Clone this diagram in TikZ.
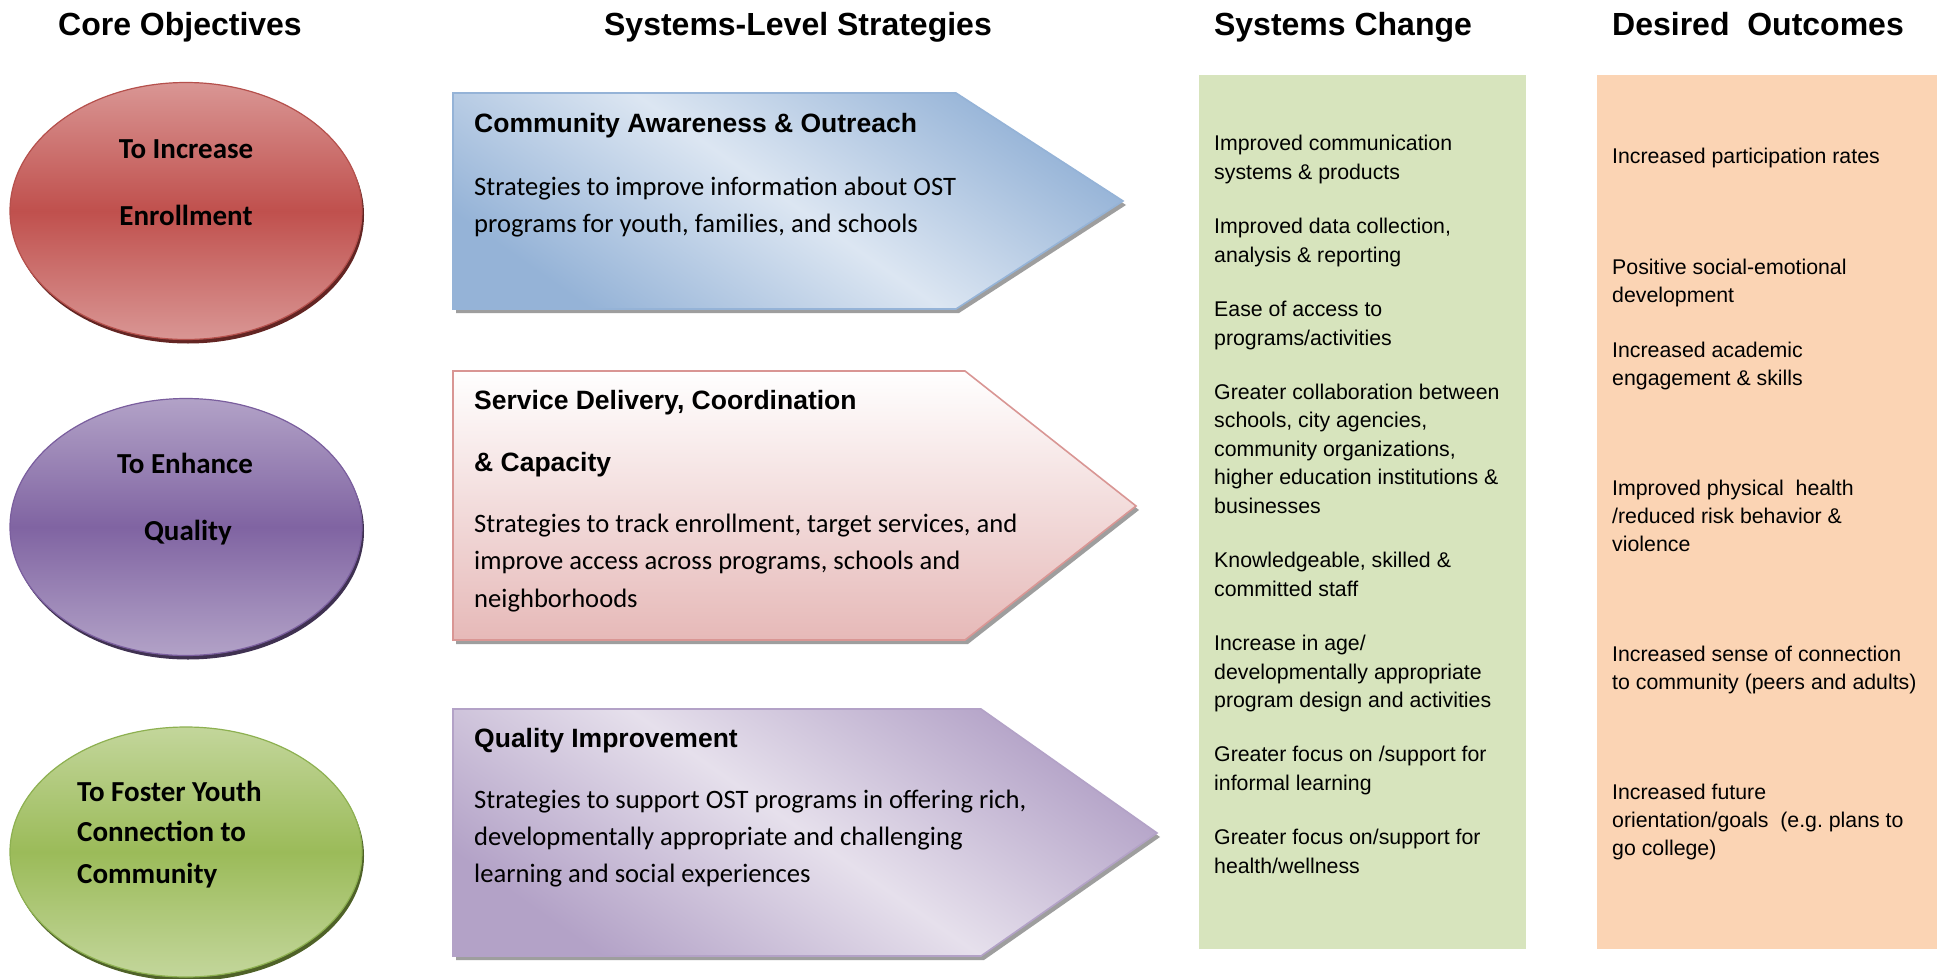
\documentclass[tikz,border=0pt]{standalone}
\usepackage{fontspec}
\setmainfont{Liberation Sans}
\newfontfamily\carlito{Carlito}
\usetikzlibrary{shapes.geometric}
\definecolor{redL}{HTML}{D99694}
\definecolor{redM}{HTML}{C0504D}
\definecolor{redB}{HTML}{B5504C}
\definecolor{redS}{HTML}{632523}
\definecolor{purL}{HTML}{B2A2C7}
\definecolor{purM}{HTML}{8064A2}
\definecolor{purB}{HTML}{7A5E9E}
\definecolor{purS}{HTML}{3F3151}
\definecolor{grnL}{HTML}{C3D69B}
\definecolor{grnM}{HTML}{9BBB59}
\definecolor{grnB}{HTML}{8DB050}
\definecolor{grnS}{HTML}{4F6228}
\definecolor{blueD}{HTML}{95B3D7}
\definecolor{blueL}{HTML}{DCE6F2}
\definecolor{pinkD}{HTML}{E6B9B8}
\definecolor{pinkB}{HTML}{D99694}
\definecolor{lavD}{HTML}{B3A2C7}
\definecolor{lavL}{HTML}{E6E0EC}
\definecolor{boxG}{HTML}{D7E4BD}
\definecolor{boxP}{HTML}{FBD4B4}
\begin{document}
\begin{tikzpicture}[x=1pt,y=-1pt,
  coltitle/.style={font=\bfseries\fontsize{32}{38}\selectfont, anchor=base, inner sep=0},
  objtxt/.style={font=\carlito\bfseries\fontsize{29}{35}\selectfont, anchor=base, inner sep=0},
  objtxtl/.style={objtxt, anchor=base west},
  headtxt/.style={font=\bfseries\fontsize{26.5}{32}\selectfont, anchor=base west, inner sep=0},
  bodytxt/.style={font=\carlito\fontsize{26.6}{37}\selectfont, anchor=base west, inner sep=0},
  itemtxt/.style={font=\fontsize{21.3}{28.5}\selectfont, anchor=base west, inner sep=0},
  oval/.style={ellipse, minimum width=352pt, minimum height=257pt, inner sep=0, line width=1.2pt},
  ovalshadow/.style={ellipse, minimum width=352pt, minimum height=257pt, inner sep=0},
  arrowshadow/.style={fill=black!38},
  colbox/.style={rectangle, inner sep=0, anchor=north west, minimum width=327pt, minimum height=874pt}
]
\useasboundingbox (0,0) rectangle (1940,979);
\fill[white] (0,0) rectangle (1940,979);

% column titles
\node[coltitle] (t1) at (180,36) {Core Objectives};
\node[coltitle] (t2) at (798,36) {Systems-Level Strategies};
\node[coltitle] (t3) at (1343,36) {Systems Change};
\node[coltitle] (t4) at (1758,36) {Desired\ \ Outcomes};

% core objectives ellipses
\node[ovalshadow, fill=redS] (o1s) at (188,215) {};
\node[oval, draw=redB, top color=redL, bottom color=redL, middle color=redM] (o1) at (186,211) {};
\node[objtxt] (o1a) at (186,158) {To Increase};
\node[objtxt] (o1b) at (186,225) {Enrollment};

\node[ovalshadow, fill=purS] (o2s) at (188,531) {};
\node[oval, draw=purB, top color=purL, bottom color=purL, middle color=purM] (o2) at (186,527) {};
\node[objtxt] (o2a) at (185,473) {To Enhance};
\node[objtxt] (o2b) at (188,540) {Quality};

\node[ovalshadow, fill=grnS, minimum height=250pt] (o3s) at (188,856) {};
\node[oval, draw=grnB, top color=grnL, bottom color=grnL, middle color=grnM, minimum height=250pt] (o3) at (186,852) {};
\node[objtxtl] (o3a) at (77,801) {To Foster Youth};
\node[objtxtl] (o3b) at (77,841) {Connection to};
\node[objtxtl] (o3c) at (77,883) {Community};

% strategy arrows
\begin{scope}[shift={(3,4)}]
\fill[arrowshadow] (453,93) -- (956,93) -- (1123,201) -- (956,309) -- (453,309) -- cycle;
\fill[arrowshadow] (453,371) -- (965,371) -- (1136,506) -- (965,640) -- (453,640) -- cycle;
\fill[arrowshadow] (453,709) -- (981,709) -- (1157,833) -- (981,956) -- (453,956) -- cycle;
\end{scope}
\path[draw=blueD, line width=1.6pt, top color=blueD, bottom color=blueD, middle color=blueL, shading angle=-35]
  (453,93) -- (956,93) -- (1123,201) -- (956,309) -- (453,309) -- cycle;
\path[draw=pinkB, line width=1.6pt, top color=white, bottom color=pinkD]
  (453,371) -- (965,371) -- (1136,506) -- (965,640) -- (453,640) -- cycle;
\path[draw=lavD, line width=1.6pt, top color=lavD, bottom color=lavD, middle color=lavL, shading angle=-35]
  (453,709) -- (981,709) -- (1157,833) -- (981,956) -- (453,956) -- cycle;

\node[headtxt] (s1h) at (474,132) {Community Awareness \& Outreach};
\node[bodytxt] (s1a) at (474,195) {Strategies to improve information about OST};
\node[bodytxt] (s1b) at (474,232) {programs for youth, families, and schools};

\node[headtxt] (s2h) at (474,409) {Service Delivery, Coordination};
\node[headtxt] (s2i) at (474,471) {\& Capacity};
\node[bodytxt] (s2a) at (474,532) {Strategies to track enrollment, target services, and};
\node[bodytxt] (s2b) at (474,569) {improve access across programs, schools and};
\node[bodytxt] (s2c) at (474,607) {neighborhoods};

\node[headtxt] (s3h) at (474,747) {Quality Improvement};
\node[bodytxt] (s3a) at (474,808) {Strategies to support OST programs in offering rich,};
\node[bodytxt] (s3b) at (474,845) {developmentally appropriate and challenging};
\node[bodytxt] (s3c) at (474,882) {learning and social experiences};

% systems change box
\node[colbox, fill=boxG] (gbox) at (1199,75) {};
\foreach \yy/\txt [count=\i] in {
  150.5/{Improved communication}, 179.5/{systems \& products},
  233.5/{Improved data collection,}, 262.5/{analysis \& reporting},
  316.5/{Ease of access to}, 345.5/{programs/activities},
  399.5/{Greater collaboration between}, 427.5/{schools, city agencies,},
  456.5/{community organizations,}, 484.5/{higher education institutions \&},
  513.5/{businesses},
  567.5/{Knowledgeable, skilled \&}, 596.5/{committed staff},
  650.5/{Increase in age/}, 679.5/{developmentally appropriate},
  707.5/{program design and activities},
  761.5/{Greater focus on /support for}, 790.5/{informal learning},
  844.5/{Greater focus on/support for}, 873.5/{health/wellness}}
  \node[itemtxt] (sc\i) at (1214,\yy) {\txt};

% desired outcomes box
\node[colbox, fill=boxP, minimum width=340pt] (pbox) at (1597,75) {};
\foreach \yy/\txt [count=\i] in {
  164/{Increased participation rates},
  274/{Positive social-emotional}, 302/{development},
  357/{Increased academic}, 385/{engagement \& skills},
  495/{Improved physical\ \ health}, 523/{/reduced risk behavior \&},
  551/{violence},
  661/{Increased sense of connection}, 689/{to community (peers and adults)},
  799/{Increased future}, 827/{orientation/goals\ \ (e.g.\ plans to},
  855/{go college)}}
  \node[itemtxt] (do\i) at (1612,\yy) {\txt};
\end{tikzpicture}
\end{document}
